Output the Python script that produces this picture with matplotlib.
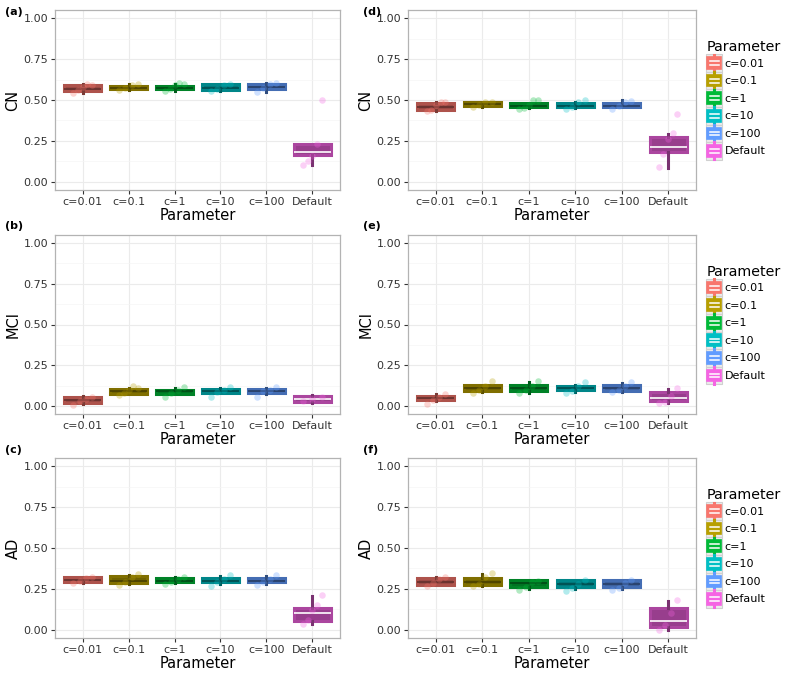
import numpy as np
import matplotlib.pyplot as plt
from matplotlib.patches import Rectangle, Patch
from matplotlib.lines import Line2D
from matplotlib.legend_handler import HandlerBase

groups = ['c=0.01', 'c=0.1', 'c=1', 'c=10', 'c=100', 'Default']
hues = ['#F8766D', '#B79F00', '#00BA38', '#00BFC4', '#619CFF', '#F564E3']

# box summaries per group: whisker low, q1, median, q3, whisker high
cn_a = [[0.54, 0.555, 0.570, 0.590, 0.600], [0.560, 0.565, 0.575, 0.585, 0.595],
        [0.555, 0.565, 0.572, 0.585, 0.600], [0.555, 0.560, 0.575, 0.595, 0.600],
        [0.550, 0.565, 0.580, 0.595, 0.605], [0.100, 0.165, 0.185, 0.230, 0.230]]
cn_a_pts = [[0.54, 0.56, 0.58, 0.60, 0.59], [0.56, 0.575, 0.59, 0.60],
            [0.555, 0.57, 0.59, 0.605, 0.60], [0.555, 0.57, 0.59, 0.60],
            [0.55, 0.575, 0.595, 0.605], [0.10, 0.13, 0.16, 0.23, 0.50]]

mci_b = [[0.010, 0.020, 0.037, 0.055, 0.060], [0.070, 0.075, 0.090, 0.105, 0.110],
         [0.070, 0.075, 0.090, 0.100, 0.110], [0.080, 0.080, 0.092, 0.105, 0.110],
         [0.070, 0.080, 0.092, 0.105, 0.110], [0.020, 0.025, 0.042, 0.060, 0.065]]
mci_b_pts = [[0.005, 0.03, 0.045, 0.055], [0.065, 0.08, 0.10, 0.12, 0.11],
             [0.055, 0.08, 0.10, 0.115], [0.055, 0.085, 0.10, 0.115],
             [0.055, 0.09, 0.10, 0.115], [0.03, 0.045, 0.055]]

ad_c = [[0.285, 0.290, 0.305, 0.320, 0.325], [0.280, 0.285, 0.300, 0.330, 0.335],
        [0.285, 0.290, 0.300, 0.315, 0.320], [0.280, 0.290, 0.300, 0.315, 0.330],
        [0.280, 0.290, 0.300, 0.315, 0.330], [0.035, 0.055, 0.105, 0.135, 0.205]]
ad_c_pts = [[0.285, 0.30, 0.315, 0.325], [0.275, 0.29, 0.32, 0.34],
            [0.28, 0.295, 0.31, 0.32], [0.27, 0.29, 0.31, 0.335],
            [0.275, 0.29, 0.31, 0.335], [0.035, 0.06, 0.12, 0.15, 0.21]]

cn_d = [[0.430, 0.440, 0.460, 0.480, 0.490], [0.460, 0.465, 0.475, 0.485, 0.490],
        [0.450, 0.455, 0.465, 0.480, 0.480], [0.450, 0.455, 0.465, 0.480, 0.490],
        [0.455, 0.455, 0.465, 0.480, 0.500], [0.085, 0.185, 0.215, 0.276, 0.290]]
cn_d_pts = [[0.43, 0.44, 0.47, 0.49, 0.485], [0.455, 0.47, 0.49, 0.485],
            [0.445, 0.45, 0.47, 0.50, 0.50], [0.445, 0.46, 0.49, 0.50],
            [0.445, 0.465, 0.49, 0.495], [0.09, 0.17, 0.26, 0.30, 0.415]]

mci_e = [[0.030, 0.035, 0.050, 0.060, 0.070], [0.085, 0.090, 0.110, 0.130, 0.130],
         [0.080, 0.090, 0.110, 0.130, 0.145], [0.085, 0.095, 0.110, 0.125, 0.130],
         [0.085, 0.090, 0.110, 0.130, 0.140], [0.020, 0.030, 0.050, 0.085, 0.105]]
mci_e_pts = [[0.01, 0.035, 0.055, 0.07], [0.08, 0.10, 0.12, 0.155],
             [0.08, 0.095, 0.12, 0.155], [0.08, 0.09, 0.12, 0.145],
             [0.085, 0.10, 0.125, 0.145], [0.02, 0.025, 0.06, 0.11]]

ad_f = [[0.275, 0.275, 0.295, 0.315, 0.320], [0.270, 0.275, 0.295, 0.315, 0.340],
        [0.250, 0.260, 0.285, 0.305, 0.305], [0.250, 0.260, 0.280, 0.305, 0.305],
        [0.250, 0.260, 0.280, 0.305, 0.305], [0.000, 0.015, 0.055, 0.135, 0.175]]
ad_f_pts = [[0.27, 0.285, 0.31, 0.32], [0.265, 0.28, 0.325, 0.345],
            [0.245, 0.26, 0.29, 0.30], [0.24, 0.255, 0.28, 0.305],
            [0.245, 0.255, 0.285, 0.305], [0.0, 0.03, 0.10, 0.18]]

yticks = [0.00, 0.25, 0.50, 0.75, 1.00]


class BoxKey(HandlerBase):
    # little boxplot glyph like the ggplot legend key
    def create_artists(self, legend, orig_handle, xd, yd, w, h, fontsize, trans):
        hue = orig_handle.get_facecolor()
        x0, y0 = -xd, -yd
        bg = Rectangle((x0, y0), w, h, facecolor='#EBEBEB', edgecolor='#D0D0D0',
                       lw=0.8, transform=trans)
        wh = Line2D([x0 + w / 2] * 2, [y0 + 0.02 * h, y0 + 0.98 * h], color=hue,
                    lw=2.2, transform=trans)
        box = Rectangle((x0 + 0.08 * w, y0 + 0.17 * h), 0.84 * w, 0.66 * h,
                        facecolor=hue, edgecolor=hue, lw=1.2, transform=trans)
        m1 = Line2D([x0 + 0.22 * w, x0 + 0.78 * w], [y0 + 0.38 * h] * 2, color='white',
                    lw=1.1, transform=trans)
        m2 = Line2D([x0 + 0.22 * w, x0 + 0.78 * w], [y0 + 0.6 * h] * 2, color='white',
                    lw=1.1, transform=trans)
        return [bg, wh, box, m1, m2]


def draw_panel(ax, stats, pts, ylabel, legend):
    pos = np.arange(1, len(groups) + 1)
    st = [dict(whislo=s[0], q1=s[1], med=s[2], q3=s[3], whishi=s[4], fliers=[]) for s in stats]
    bp = ax.bxp(st, positions=pos, widths=0.8, patch_artist=True, showcaps=False,
                showfliers=False)
    for i, hue in enumerate(hues):
        base = np.array(plt.matplotlib.colors.to_rgb(hue))
        dark = base * 0.62
        edge = base * 0.7
        bp['boxes'][i].set(facecolor=dark, edgecolor=edge, lw=2.2)
        med = 'white' if groups[i] == 'Default' else base * 0.4
        bp['medians'][i].set(color=med, lw=1.2)
        for wl in bp['whiskers'][2 * i:2 * i + 2]:
            wl.set(color=dark * 0.8, lw=2.2)
        v = np.array(pts[i])
        off = np.linspace(-0.2, 0.2, len(v))
        ax.scatter(pos[i] + off, v, s=22, color=hue, alpha=0.3, lw=0, zorder=4)
    ax.set_xlim(0.4, 6.6)
    ax.set_ylim(-0.05, 1.05)
    ax.set_xticks(pos)
    ax.set_xticklabels(groups)
    ax.set_yticks(yticks)
    ax.set_yticklabels(['%.2f' % t for t in yticks])
    ax.set_yticks([0.125, 0.375, 0.625, 0.875], minor=True)
    ax.grid(True, which='major', color='#EBEBEB', lw=0.8)
    ax.grid(True, which='minor', axis='y', color='#F5F5F5', lw=0.5)
    ax.set_axisbelow(True)
    ax.tick_params(which='major', length=3, color='#333333', labelcolor='#333333',
                   labelsize=8, pad=2)
    ax.tick_params(which='minor', length=0)
    for sp in ax.spines.values():
        sp.set_color('#B3B3B3')
        sp.set_linewidth(0.9)
    ax.set_xlabel('Parameter', fontsize=10.5, labelpad=1)
    ax.set_ylabel(ylabel, fontsize=10.5, labelpad=2)
    if legend:
        handles = [Patch(facecolor=h) for h in hues]
        ax.legend(handles, groups, handler_map={Patch: BoxKey()}, title='Parameter',
                  loc='center left', bbox_to_anchor=(1.02, 0.5), frameon=False,
                  fontsize=8, title_fontsize=10.3, handlelength=1.45,
                  handleheight=2.05, labelspacing=0.0, handletextpad=0.2,
                  borderaxespad=0, alignment='left')


fig = plt.figure(figsize=(7.87, 6.76), dpi=100)
W, H = 787, 676
rows = [(10, 190), (235, 414), (458, 638)]
cols = [(55, 285), (408, 288)]
panels = [
    ('(a)', 'CN', cn_a, cn_a_pts, 0, 0),
    ('(b)', 'MCI', mci_b, mci_b_pts, 1, 0),
    ('(c)', 'AD', ad_c, ad_c_pts, 2, 0),
    ('(d)', 'CN', cn_d, cn_d_pts, 0, 1),
    ('(e)', 'MCI', mci_e, mci_e_pts, 1, 1),
    ('(f)', 'AD', ad_f, ad_f_pts, 2, 1),
]
label_y = [12, 226, 450]
label_x = [5, 363]
for tag, yl, st, pt, r, c in panels:
    top, bot = rows[r]
    left, wd = cols[c]
    ax = fig.add_axes([left / W, 1 - bot / H, wd / W, (bot - top) / H])
    draw_panel(ax, st, pt, yl, legend=(c == 1))
    fig.text(label_x[c] / W, 1 - label_y[r] / H, tag, fontsize=8, fontweight='bold',
             va='center', ha='left')

fig.savefig('out.png', dpi=100)
